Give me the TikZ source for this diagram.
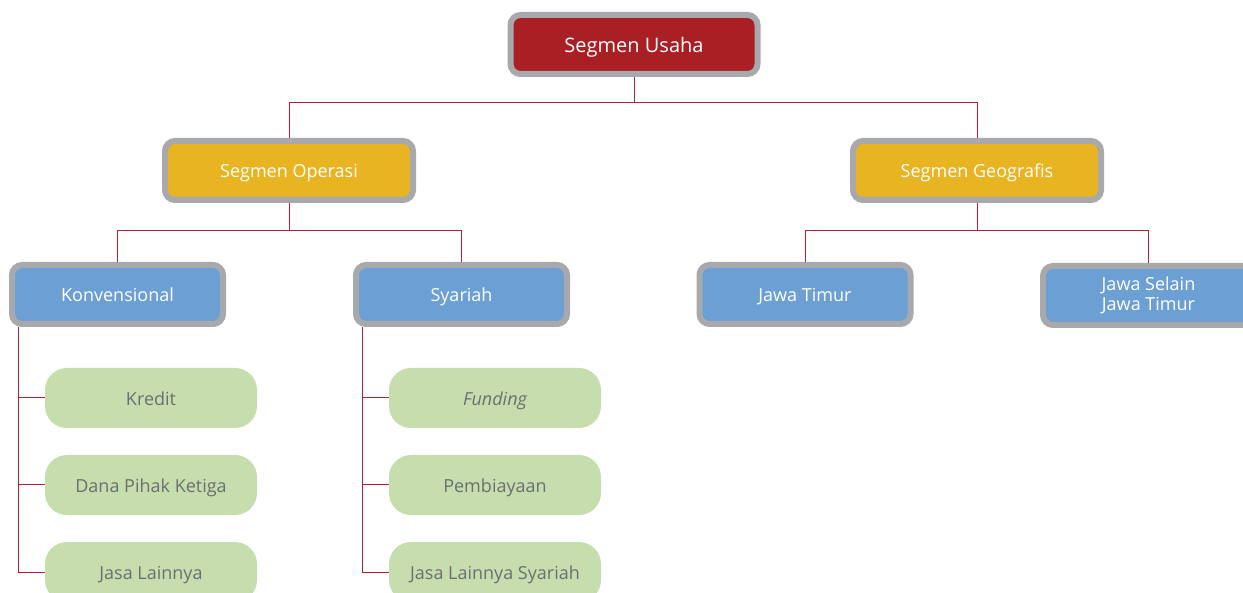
\documentclass[tikz,border=0pt]{standalone}
\usepackage{fontspec}
\setmainfont{Open Sans}
\definecolor{segred}{HTML}{A91F24}
\definecolor{frame}{HTML}{A7A9AC}
\definecolor{segyellow}{HTML}{E8B422}
\definecolor{segblue}{HTML}{6CA0D4}
\definecolor{seggreen}{HTML}{C6DEAE}
\definecolor{greentext}{HTML}{6D6E71}
\definecolor{linkred}{HTML}{B3232F}
\begin{document}
\begin{tikzpicture}[x=1pt,y=-1pt,
  oneline/.style={text height=19.4pt,text depth=5pt},
  box/.style={draw=frame,line width=6pt,rounded corners=10pt,inner sep=0pt,
    minimum height=59pt,text=white,align=center,font=\fontsize{18}{20}\selectfont},
  topbox/.style={box,fill=segred,minimum width=247pt,font=\fontsize{20}{22}\selectfont,
    text height=21pt,text depth=5pt},
  midbox/.style={box,oneline,fill=segyellow,minimum width=248pt},
  subbox/.style={box,fill=segblue,minimum width=211pt},
  leaf/.style={oneline,fill=seggreen,rounded corners=22pt,minimum width=212pt,minimum height=60pt,
    inner sep=0pt,text=greentext,font=\fontsize{18}{20}\selectfont},
  link/.style={draw=linkred,line width=1pt}]
\useasboundingbox (0,0) rectangle (1243,593);

% top level
\node[topbox] (usaha) at (634,44.5) {Segmen Usaha};

% second level
\node[midbox] (operasi) at (289,170.5) {Segmen Operasi};
\node[midbox] (geo) at (977,170.5) {Segmen Geografis};

% third level
\node[subbox,oneline] (konv) at (117.5,294.5) {Konvensional};
\node[subbox,oneline] (syariah) at (461.5,294.5) {Syariah};
\node[subbox,oneline] (jatim) at (805,294.5) {Jawa Timur};
\node[subbox] (nonjatim) at (1148.5,295.5) {Jawa Selain\\Jawa Timur};

% leaves
\node[leaf] (kredit) at (151,398) {Kredit};
\node[leaf] (dpk) at (151,485) {Dana Pihak Ketiga};
\node[leaf] (jasa) at (151,572) {Jasa Lainnya};
\node[leaf] (funding) at (495,398) {\itshape Funding};
\node[leaf] (biaya) at (495,485) {Pembiayaan};
\node[leaf] (jasas) at (495,572) {Jasa Lainnya Syariah};

% tree links
\draw[link] (usaha.south) -- ++(0,26) -| (operasi.north);
\draw[link] (usaha.south) ++(0,26) -| (geo.north);
\draw[link] (operasi.south) -- ++(0,28) -| (konv.north);
\draw[link] (operasi.south) ++(0,28) -| (syariah.north);
\draw[link] (geo.south) -- ++(0,28) -| (jatim.north);
\draw[link] (geo.south) ++(0,28) -| (nonjatim.north);

% leaf spines
\draw[link] (konv.south west) ++(9,0) |- (jasa.west);
\draw[link] (kredit.west) -- ++(-27,0);
\draw[link] (dpk.west) -- ++(-27,0);
\draw[link] (syariah.south west) ++(9,0) |- (jasas.west);
\draw[link] (funding.west) -- ++(-27,0);
\draw[link] (biaya.west) -- ++(-27,0);
\end{tikzpicture}
\end{document}
